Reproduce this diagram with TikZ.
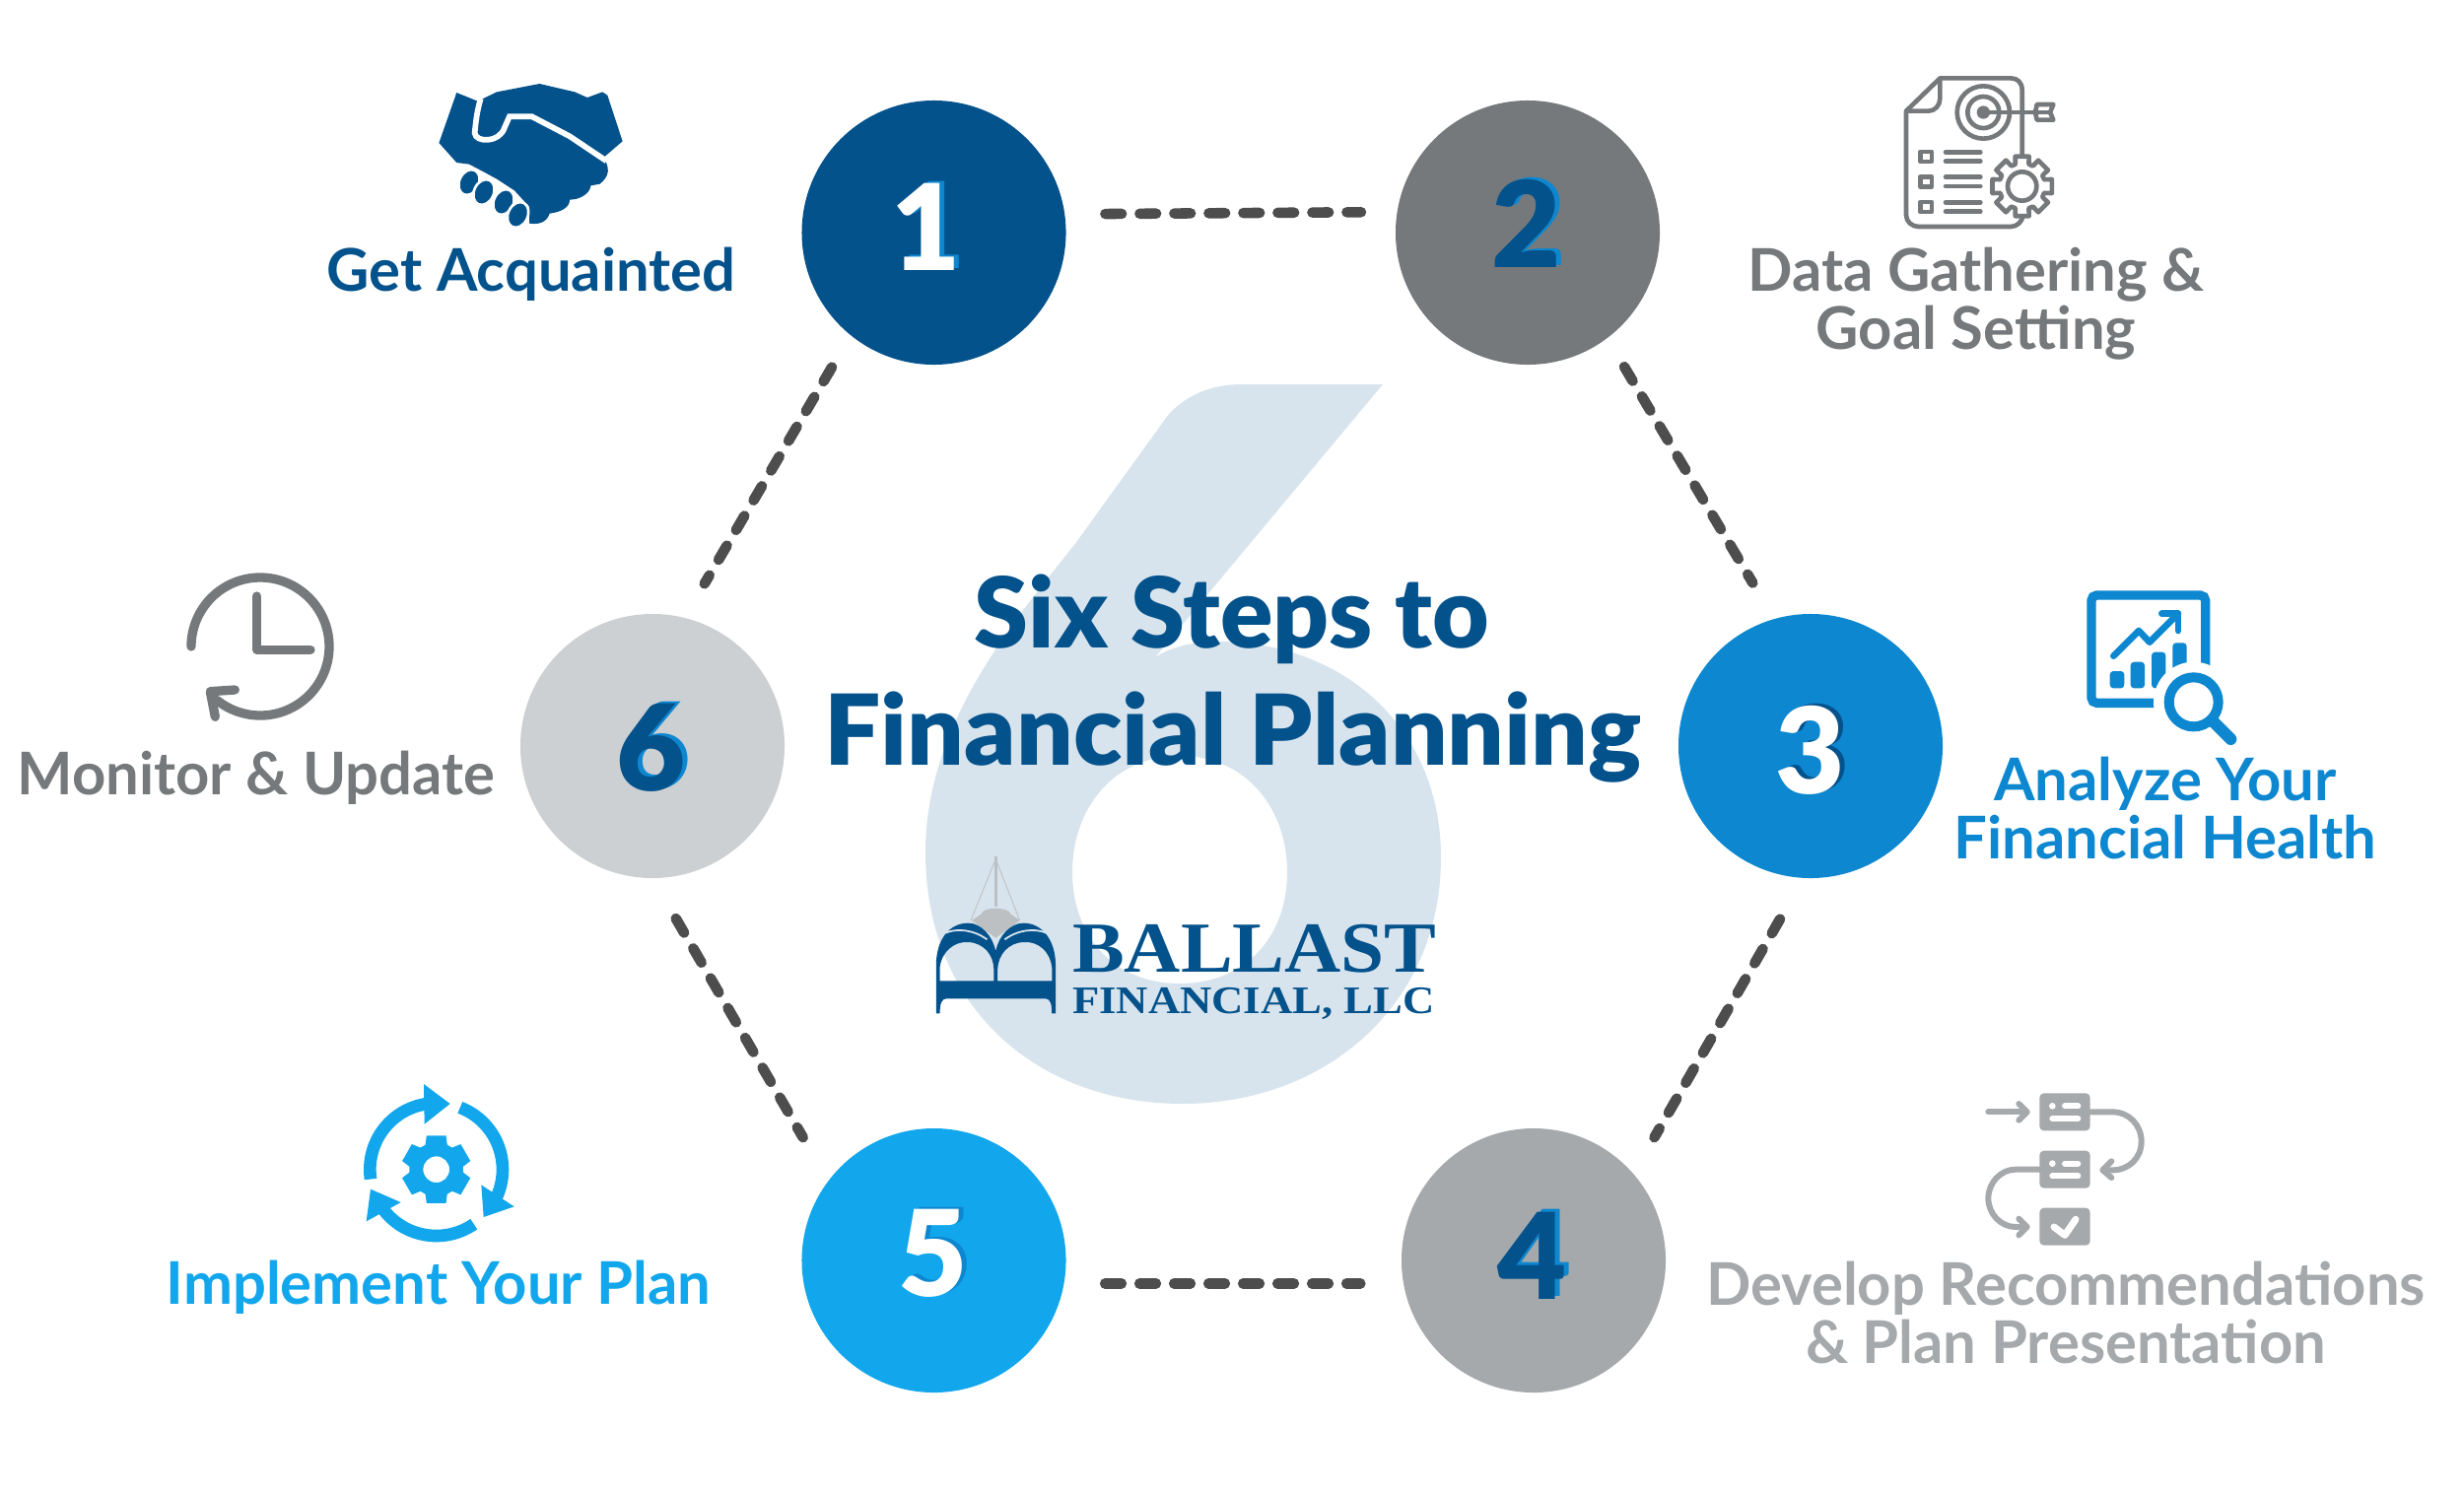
\documentclass[tikz,border=0pt]{standalone}
\usepackage{fontspec}
\setmainfont{Lato}
\newfontfamily\logofont{Liberation Serif}
\newfontfamily\heavyfont{Lato Black}
\usetikzlibrary{calc}
\definecolor{cdark}{HTML}{04528C}
\definecolor{cgrey}{HTML}{75797B}
\definecolor{cblue}{HTML}{0D87CF}
\definecolor{clgrey}{HTML}{A5A9AC}
\definecolor{csky}{HTML}{12A7EC}
\definecolor{cpale}{HTML}{CCD0D3}
\definecolor{csix}{HTML}{D8E4ED}
\definecolor{cdash}{HTML}{4D4D4D}
\definecolor{cboat}{HTML}{BDC0C2}
\tikzset{
  disc/.style={circle,inner sep=0pt,minimum size=107.2mm,fill=#1},
  digit/.style={anchor=base,inner sep=0pt,font=\heavyfont\fontsize{138}{138}\selectfont,text=#1},
  lab/.style={anchor=base,inner sep=0pt,align=center,font=\bfseries\fontsize{68}{67}\selectfont,text=#1},
  headline/.style={anchor=base,inner sep=0pt,font=\heavyfont\fontsize{113}{113}\selectfont,text=cdark},
  link/.style={draw=cdash,line width=12pt,line cap=round,dash pattern=on 19pt off 20.83pt},
  logotxt/.style={anchor=base west,inner sep=0pt,text=cdark}
}
\begin{document}
\begin{tikzpicture}[x=.04cm,y=-.04cm]
\useasboundingbox (0,0) rectangle (2500,1515.5);
% big six
\fill[csix,even odd rule] (1403,390) -- (1172,667) .. controls (1190,655) and (1215,651) .. (1235,651)
  .. controls (1365,651) and (1462,740) .. (1462,870)
  .. controls (1462,1020) and (1345,1120) .. (1200,1120)
  .. controls (1050,1120) and (939,1020) .. (939,865)
  .. controls (939,740) and (1020,640) .. (1090,553)
  -- (1186,420) .. controls (1205,400) and (1230,390) .. (1260,390) -- cycle
  (1197,767) .. controls (1130,767) and (1088,820) .. (1088,885)
  .. controls (1088,950) and (1130,998) .. (1197,998)
  .. controls (1264,998) and (1306,950) .. (1306,885)
  .. controls (1306,820) and (1264,767) .. (1197,767) -- cycle;
% discs
\node[disc=cdark] (n1) at (947.5,236) {};
\node[disc=cgrey] (n2) at (1550,236) {};
\node[disc=cblue] (n3) at (1837,757) {};
\node[disc=clgrey] (n4) at (1556,1279) {};
\node[disc=csky] (n5) at (947.5,1279) {};
\node[disc=cpale] (n6) at (662,757) {};
% connectors
\draw[link,shorten <=16.4mm,shorten >=14.6mm] (n1.8.3) -- (n2.171.7);
\draw[link,shorten <=13.5mm,shorten >=17mm] (n2.-53.6) -- (n3.106.5);
\draw[link,shorten <=19.2mm,shorten >=17mm] (n3.-93.9) -- (n4.41.2);
\draw[link,shorten <=16.6mm,shorten >=17.4mm] (n5.-10) -- (n4.190);
\draw[link,shorten <=18.9mm,shorten >=20.4mm] (n6.-90) -- (n5.143);
\draw[link,shorten <=15mm,shorten >=16mm] (n1.231.5) -- (n6.76.9);
% digits
\node[digit=cblue] (s1) at (945,272) {1};
\node[digit=white] (d1) at (940,274) {1};
\node[digit=cblue] (s2) at (1554,269) {2};
\node[digit=cdark] (d2) at (1549,271) {2};
\node[digit=cdark] (s3) at (1842,803) {3};
\node[digit=white] (d3) at (1837,805) {3};
\node[digit=cblue] (s4) at (1560,1315) {4};
\node[digit=cdark] (d4) at (1555,1318) {4};
\node[digit=cblue] (s5) at (952,1313) {5};
\node[digit=white] (d5) at (947,1315) {5};
\node[digit=cblue] (s6) at (666,800) {6};
\node[digit=cdark] (d6) at (661,802) {6};
% title
\node[headline] (t1) at (1250,657) {Six Steps to};
\node[headline,xscale=1.021] (t2) at (1251,776) {Financial Planning};
% labels
\node[lab=cdark] (l1) at (539,295) {Get Acquainted};
\node[lab=cgrey] (l2) at (2005,354) {Data Gathering \&\\Goal Setting};
\node[lab=cblue] (l3) at (2197,871) {Analyze Your\\Financial Health};
\node[lab=clgrey] (l4) at (2096,1383) {Develop Recommendations\\\& Plan Presentation};
\node[lab=csky] (l5) at (445,1323) {Implement Your Plan};
\node[lab=cgrey] (l6) at (260,806) {Monitor \& Update};
% handshake
\begin{scope}[shift={(300,50)},xscale=.5102,yscale=.3333]
\fill[cdark] (320,132) -- (362,158) -- (400,130) -- (485,105) -- (555,130) -- (580,147) -- (610,130) -- (620,140)
  -- (650,280) -- (612,330) .. controls (625,360) and (625,385) .. (605,410) -- (587,415) .. controls (585,440) and (565,458) .. (545,458)
  .. controls (545,480) and (530,495) .. (505,500) .. controls (500,525) and (485,535) .. (465,530)
  -- (465,480) -- (435,430) -- (400,395) -- (370,370) -- (345,350) -- (320,345) -- (285,285) -- cycle;
\draw[white,line width=6.5pt,line cap=butt] (368,150) .. controls (360,190) and (358,225) .. (356,255)
  .. controls (358,285) and (405,285) .. (415,240) -- (425,205) -- (470,205) -- (545,265) -- (618,340);
\end{scope}
\foreach \fx/\fy in {476/185,491/195,511/205,525.5/218}
  \filldraw[cdark,draw=white,line width=3pt,rotate around={-25:(\fx,\fy)}] (\fx,\fy) ellipse [x radius=10,y radius=13.5];
% target document
\begin{scope}[shift={(1750,50)},scale=1/3]
\begin{scope}[draw=cgrey,line width=5.3pt,line join=round]
\draw (905,335) -- (905,125) .. controls (905,100) and (890,88) .. (870,88) -- (655,88) -- (552,188) -- (552,505)
  .. controls (552,525) and (570,540) .. (590,540) -- (870,540) .. controls (890,540) and (905,525) .. (908,505);
\draw (655,88) -- (655,150) .. controls (655,170) and (640,188) .. (620,188) -- (552,188);
\filldraw[fill=white] (787,192) circle [radius=80];
\draw (787,192) circle [radius=48];
\fill[cgrey] (787,192) circle [radius=20];
\draw (787,192) -- (945,192);
\draw[fill=white] (945,192) -- (950,168) -- (1000,168) -- (990,192) -- (1000,215) -- (950,215) -- cycle;
\draw (950,192) -- (990,192);
\foreach \yy in {327,403,480} {
  \draw (595,\yy-15) rectangle (630,\yy+15);
  \draw[line cap=round] (672,\yy-14) -- (778,\yy-14);
  \draw[line cap=round] (672,\yy+14) -- (778,\yy+14);
}
\end{scope}
\filldraw[shift={(905,417)},draw=cgrey,fill=white,line width=5.3pt,line join=round]
  (-13:93) \foreach \a in {0,45,...,315} { -- (\a-13:93) -- (\a+13:93) -- (\a+17:70) -- (\a+28:70) } -- cycle;
\draw[cgrey,line width=5.3pt] (905,417) circle [radius=44];
\end{scope}
% analysis
\begin{scope}[shift={(2050,580)},scale=1/3]
\draw[cblue,line width=10.6pt,rounded corners=6pt] (216,72) rectangle (563,400);
\foreach \ba/\bb/\bc/\bd in {272/303/316/355,335/275/378/355,399/245/442/355,463/217/506/355}
  \fill[cblue,rounded corners=4pt] (\ba,\bb) rectangle (\bc,\bd);
\draw[cblue,line width=7.6pt,line cap=round,line join=round] (283,257) -- (360,180) -- (393,215) -- (480,128);
\draw[cblue,line width=7.6pt,line cap=round,line join=round] (430,128) -- (480,128) -- (480,180);
\fill[white] (527,397) circle [radius=122];
\draw[cblue,line width=11.4pt] (527,397) circle [radius=75];
\draw[cblue,line width=13.7pt,line cap=round] (590,460) -- (640,510);
\end{scope}
% process
\begin{scope}[shift={(1980,1090)},scale=1/3]
\foreach \yy in {58,233,407}
  \fill[clgrey,rounded corners=5pt] (268,\yy) rectangle (422,\yy+114);
\foreach \yy in {0,175} {
  \fill[white] (307,97+\yy) circle [radius=10];
  \draw[white,line width=6.8pt,line cap=round] (345,97+\yy) -- (385,97+\yy);
  \draw[white,line width=6.8pt,line cap=round] (307,135+\yy) -- (385,135+\yy);
}
\draw[white,line width=8pt,line cap=round,line join=round] (312,465) -- (345,490) -- (378,442);
\begin{scope}[draw=clgrey,line width=6.8pt,line cap=round,line join=round]
\draw (112,115) -- (225,115);
\draw (205,90) -- (230,115) -- (205,140);
\draw (422,115) -- (490,115) .. controls (540,115) and (578,155) .. (578,205) .. controls (578,255) and (540,292) .. (490,292) -- (465,292);
\draw (487,265) -- (460,292) -- (487,315);
\draw (268,290) -- (195,290) .. controls (150,290) and (112,330) .. (112,378) .. controls (112,425) and (150,465) .. (195,465) -- (225,465);
\draw (205,440) -- (230,465) -- (205,490);
\end{scope}
\end{scope}
% implement
\begin{scope}[shift={(340,1080)},scale=1/3]
\begin{scope}[draw=csky,line width=14.4pt]
\draw (308,320) ++(171.6:202) arc [start angle=171.6,end angle=262,radius=202];
\draw (308,320) ++(-69:202) arc [start angle=-69,end angle=27,radius=202];
\draw (308,320) ++(55.5:202) arc [start angle=55.5,end angle=145,radius=202];
\end{scope}
\fill[csky] (270,60) -- (350,120) -- (272,182) -- cycle;
\fill[csky] (445,367) -- (545,433) -- (452,465) -- cycle;
\fill[csky] (108,380) -- (200,420) -- (95,478) -- cycle;
\fill[csky,even odd rule,shift={(308,320)}] (74:107)
  \foreach \a in {90,150,...,390} { -- (\a-16:107) -- (\a+16:107) -- (\a+24:82) -- (\a+36:82) } -- cycle
  (0,0) circle [radius=40];
\end{scope}
% clock
\begin{scope}[shift={(170,570)},scale=1/3]
\begin{scope}[draw=cgrey,line width=10.6pt,line cap=round,line join=round]
\draw (282,258) ++(180:210) arc [start angle=180,end angle=489,radius=210];
\draw (272,105) -- (272,268) -- (435,268);
\draw (205,390) -- (130,395) -- (145,472);
\end{scope}
\end{scope}
% logo
\begin{scope}[shift={(900,840)},xscale=.3827,yscale=.3333]
\draw[cboat,line width=1pt] (222,282) -- (288,95) -- (352,282);
\draw[cboat,line width=3.5pt] (288,88) -- (288,240);
\fill[cboat] (250,262) .. controls (252,240) and (325,240) .. (327,262) -- (352,282) -- (288,335) -- (225,282) -- cycle;
\fill[cdark,even odd rule] (130,565) -- (130,420) .. controls (130,340) and (165,290) .. (215,290)
  .. controls (250,290) and (280,330) .. (288,375) .. controls (296,330) and (326,290) .. (362,290)
  .. controls (410,290) and (447,340) .. (447,420) -- (447,565) -- (437,565) .. controls (437,535) and (432,520) .. (420,520)
  -- (157,520) .. controls (145,520) and (140,535) .. (140,565) -- cycle
  (140,466) -- (140,425) .. controls (145,375) and (180,345) .. (215,348) .. controls (255,350) and (282,385) .. (283,430) -- (283,466) -- cycle
  (293,466) -- (293,430) .. controls (295,385) and (322,350) .. (362,348) .. controls (400,345) and (432,375) .. (437,425) -- (437,466) -- cycle;
\draw[csix,line width=2pt] (155,320) .. controls (185,305) and (230,310) .. (265,340);
\draw[csix,line width=2pt] (422,320) .. controls (392,305) and (347,310) .. (312,340);
\end{scope}
\node[logotxt,xscale=1.085,font=\logofont\bfseries\fontsize{83}{83}\selectfont] (b1) at (1088,986) {BALLAST};
\node[logotxt,xscale=1.13,font=\logofont\bfseries\fontsize{45}{45}\selectfont] (b2) at (1088,1028) {FINANCIAL, LLC};
\end{tikzpicture}
\end{document}
